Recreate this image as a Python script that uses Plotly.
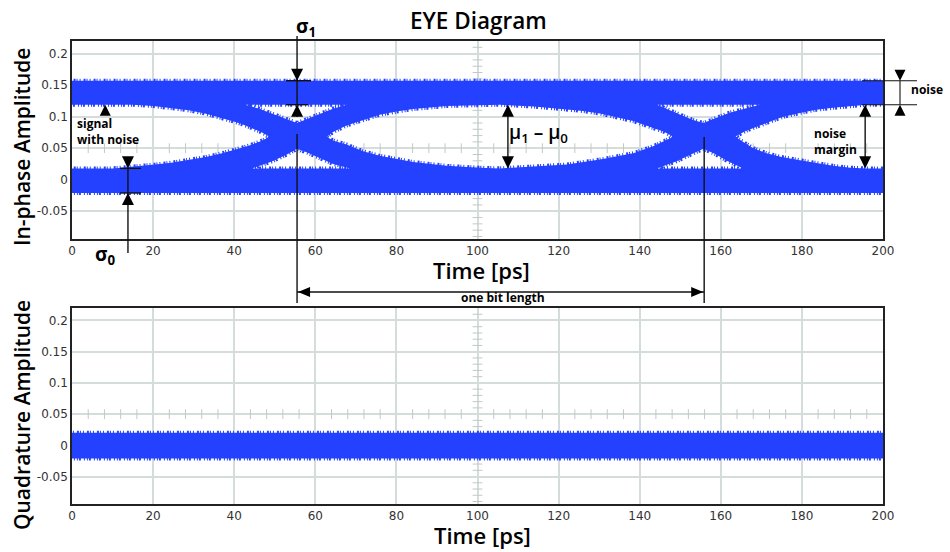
import plotly.graph_objects as go

# ---------------- data ----------------
time_ticks = [0, 20, 40, 60, 80, 100, 120, 140, 160, 180, 200]
amp_ticks = [0.2, 0.15, 0.1, 0.05, 0, -0.05]
amp_tick_text = ["0.2", "0.15", "0.1", "0.05", "0", "-0.05"]
time_range = [0, 200]
amp_range = [-0.094, 0.22]

# in-phase: levels of the noisy "1" and "0" rails (outer / inner edges)
one_outer, one_inner = 0.157, 0.119
zero_inner, zero_outer = 0.018, -0.021
# quadrature: noise band
quad_top, quad_bottom = 0.020, -0.021

# eye openings (upper boundary left->right, then lower boundary right->left)
left_eye_t = [-1, 15, 20, 24.7, 28.8, 32.8, 36, 39.5, 42, 44.4, 46.5, 48.8,
              46.5, 43.6, 40, 37, 33, 28.8, 24.5, 20.5, 15, 10, -1]
left_eye_a = [0.119, 0.119, 0.117, 0.114, 0.110, 0.105, 0.100, 0.093, 0.088, 0.082, 0.076, 0.068,
              0.061, 0.054, 0.047, 0.042, 0.036, 0.031, 0.027, 0.024, 0.021, 0.018, 0.018]

center_eye_t = [62.8, 64.5, 67.7, 71.8, 75.9, 80, 84.1, 92.4, 100.6, 105.5, 114, 122, 126, 130.2,
                134, 138.4, 143.3, 146, 148.3,
                146, 143.3, 138.4, 134, 130.2, 122, 114, 105.5, 100.6, 92.4, 84.1, 80, 75.9,
                71.8, 67.7, 64.5]
center_eye_a = [0.068, 0.076, 0.086, 0.095, 0.103, 0.108, 0.112, 0.117, 0.119, 0.119, 0.116, 0.112,
                0.109, 0.105, 0.100, 0.093, 0.082, 0.076, 0.068,
                0.061, 0.053, 0.042, 0.036, 0.032, 0.024, 0.021, 0.018, 0.019, 0.022, 0.028,
                0.033, 0.038, 0.045, 0.056, 0.062]

right_eye_t = [163.5, 166, 171.3, 175, 179.5, 183.5, 187.7, 192, 196, 201,
               201, 196, 192, 187.7, 183.5, 179.5, 175, 171.3, 168, 166]
right_eye_a = [0.068, 0.077, 0.090, 0.099, 0.106, 0.111, 0.114, 0.117, 0.119, 0.119,
               0.018, 0.018, 0.019, 0.022, 0.026, 0.031, 0.036, 0.042, 0.050, 0.058]

# small openings above / below the two crossing points
upper_gap1_t = [42.7, 67.8, 64.5, 61, 58, 55.5, 53, 50, 46]
upper_gap1_a = [0.119, 0.119, 0.113, 0.104, 0.095, 0.090, 0.096, 0.104, 0.113]
lower_gap1_t = [44.4, 49.3, 53, 55.5, 58, 60.3, 64.4, 68.6]
lower_gap1_a = [0.018, 0.029, 0.040, 0.049, 0.043, 0.036, 0.025, 0.018]
upper_gap2_t = [144.2, 169.7, 166, 162, 158.5, 155.7, 153, 149.5, 146.5]
upper_gap2_a = [0.119, 0.119, 0.113, 0.106, 0.097, 0.090, 0.095, 0.104, 0.112]
lower_gap2_t = [144.2, 149, 153, 155.7, 158.5, 161.5, 165.5]
lower_gap2_a = [0.018, 0.029, 0.041, 0.049, 0.041, 0.030, 0.018]

# annotation anchors (time in ps)
crossing_times = [55.5, 155.9]
sigma0_time = 13.8
signal_arrow_time = 8.2
mu_time = 107.5
margin_time = 195.6

# ---------------- styling / layout ----------------
W, H = 950, 552
L, R, T, B = 72, 883, 41, 504
TOP_PIX = (41, 239)
BOT_PIX = (308, 504)
BLUE = "#2441ff"
GRID = "#d4dddb"
FONT = "Open Sans"


def P(x, y):
    return (x - L) / (R - L), (B - y) / (B - T)


def tx(t):
    return L + (t - time_range[0]) / (time_range[1] - time_range[0]) * (R - L)


def ty(v, pix=TOP_PIX):
    return pix[1] - (v - amp_range[0]) / (amp_range[1] - amp_range[0]) * (pix[1] - pix[0])


fig = go.Figure()

# crosshair minor ticks (drawn below the signal)
minor_t = [t for t in range(4, 200, 4) if t % 20]
minor_a = [round(-0.09 + 0.01 * i, 2) for i in range(31)]
minor_a = [a for a in minor_a if round(a * 100) % 5]
for xa, ya in (("x", "y"), ("x2", "y2")):
    fig.add_trace(go.Scatter(x=minor_t, y=[0.05] * len(minor_t), mode="markers",
                             marker=dict(symbol="line-ns", size=7, line=dict(width=1, color="#bfcac7")),
                             xaxis=xa, yaxis=ya, hoverinfo="skip", showlegend=False))
    fig.add_trace(go.Scatter(x=[100] * len(minor_a), y=minor_a, mode="markers",
                             marker=dict(symbol="line-ew", size=7, line=dict(width=1, color="#bfcac7")),
                             xaxis=xa, yaxis=ya, hoverinfo="skip", showlegend=False))


def ring(ts, amps):
    return list(ts) + [ts[0], None], list(amps) + [amps[0], None]


# fuzzy (noisy) edge look: dashed outline around the filled regions
EDGE = dict(color=BLUE, width=4, dash="1px,2px,1px,1px,2px,3px")

# in-phase eye: outer band region with holes (opposite winding)
ex, ey = ring([-2, 202, 202, -2], [zero_outer, zero_outer, one_outer, one_outer])
for ts, amps in ((left_eye_t, left_eye_a), (center_eye_t, center_eye_a), (right_eye_t, right_eye_a),
                 (upper_gap1_t, upper_gap1_a), (lower_gap1_t, lower_gap1_a),
                 (upper_gap2_t, upper_gap2_a), (lower_gap2_t, lower_gap2_a)):
    a, b = ring(ts, amps)
    ex += a
    ey += b
fig.add_trace(go.Scatter(x=ex, y=ey, mode="lines", fill="toself", fillcolor=BLUE,
                         line=EDGE, xaxis="x", yaxis="y",
                         hoverinfo="skip", showlegend=False))

qx, qy = ring([-2, 202, 202, -2], [quad_bottom, quad_bottom, quad_top, quad_top])
fig.add_trace(go.Scatter(x=qx, y=qy, mode="lines", fill="toself", fillcolor=BLUE,
                         line=EDGE, xaxis="x2", yaxis="y2",
                         hoverinfo="skip", showlegend=False))

# ---------------- annotation drawing ----------------
shapes = []
annots = []


def seg(x0, y0, x1, y1, w=1.4, c="#111"):
    a, b = P(x0, y0), P(x1, y1)
    shapes.append(dict(type="line", xref="paper", yref="paper", x0=a[0], y0=a[1], x1=b[0], y1=b[1],
                       line=dict(color=c, width=w), layer="above"))


def head(x, y, d, w=12, h=12):
    if d == "down":
        pts = [(x - w / 2, y - h), (x + w / 2, y - h), (x, y)]
    elif d == "up":
        pts = [(x - w / 2, y + h), (x + w / 2, y + h), (x, y)]
    elif d == "left":
        pts = [(x + h, y - w / 2), (x + h, y + w / 2), (x, y)]
    else:
        pts = [(x - h, y - w / 2), (x - h, y + w / 2), (x, y)]
    path = "M " + " L ".join("%.5f,%.5f" % P(*p) for p in pts) + " Z"
    shapes.append(dict(type="path", xref="paper", yref="paper", path=path,
                       fillcolor="black", line=dict(width=0), layer="above"))


def text(x, y, s, size=12, xanchor="center", align="center", angle=0, weight="bold"):
    px, py = P(x, y)
    annots.append(dict(x=px, y=py, xref="paper", yref="paper", text=s, showarrow=False,
                       xanchor=xanchor, yanchor="middle", align=align, textangle=angle,
                       font=dict(family=FONT, size=size, color="black", weight=weight)))


y1o, y1i = ty(one_outer), ty(one_inner)
y0i, y0o = ty(zero_inner), ty(zero_outer)

# sigma_1
xs1 = tx(crossing_times[0])
seg(xs1, 36, xs1, y1i + 12)
seg(xs1 - 11, y1o, xs1 + 14, y1o)
seg(xs1 - 11, y1i, xs1 + 11, y1i)
head(xs1, y1o, "down")
head(xs1, y1i, "up")
text(xs1 + 9, 27, "σ<sub>1</sub>", size=19)

# crossing markers + one bit length
xs2 = tx(crossing_times[1])
seg(xs1, 134, xs1, 303)
seg(xs2, 137, xs2, 303)
seg(xs1, 292, xs2, 292)
head(xs1 + 1, 292, "left", w=10, h=12)
head(xs2 - 1, 292, "right", w=10, h=12)
text((xs1 + xs2) / 2 + 2, 297, "one bit length", size=12)

# sigma_0
xs0 = tx(sigma0_time)
seg(xs0, y0i, xs0, 253)
seg(xs0 - 8, y0i, xs0 + 13, y0i)
seg(xs0 - 8, y0o, xs0 + 13, y0o)
head(xs0, y0i, "down")
head(xs0, y0o, "up")
text(105, 255, "σ<sub>0</sub>", size=19)

# signal with noise
head(tx(signal_arrow_time), y1i, "up", w=11, h=11)
text(75, 131, "signal<br>with noise", size=12, xanchor="left", align="left")

# mu1 - mu0
xm = tx(mu_time)
seg(xm, y1i + 6, xm, y0i - 6)
head(xm, y1i, "up")
head(xm, y0i, "down")
text(xm - 1, 133, "μ<sub>1</sub> – μ<sub>0</sub>", size=19, xanchor="left", align="left", weight=600)

# noise (right, outside the plot)
seg(862, y1o, 917, y1o, w=1.1)
seg(862, y1i, 917, y1i, w=1.1)
seg(900, y1o, 900, y1i, w=1.1)
head(900, y1o, "down", w=11, h=11)
head(900, y1i, "up", w=11, h=11)
text(909, 89, "noise", size=12, xanchor="left", align="left")

# noise margin
xn = tx(margin_time)
seg(xn, y1i + 6, xn, y0i - 6)
head(xn, y1i, "up")
head(xn, y0i, "down")
text(812, 141, "noise<br>margin", size=12, xanchor="left", align="left")

# titles
text(478, 20, "EYE Diagram", size=22.5, weight=600)
text(481, 270, "Time [ps]", size=22, weight=600)
text(482, 535, "Time [ps]", size=22, weight=600)
text(22, 147, "In-phase Amplitude", size=21, angle=-90, weight=600)
text(22, 415, "Quadrature Amplitude", size=21, angle=-90, weight=600)

axis_common = dict(showgrid=True, gridcolor=GRID, gridwidth=1.5, zeroline=False,
                   showline=True, mirror=True, linecolor="#222", linewidth=1.5, ticks="",
                   tickfont=dict(family="DejaVu Sans", size=12, color="#333"))

top_dom = [(B - TOP_PIX[1]) / (B - T), (B - TOP_PIX[0]) / (B - T)]
bot_dom = [(B - BOT_PIX[1]) / (B - T), (B - BOT_PIX[0]) / (B - T)]

fig.update_layout(
    width=W, height=H, autosize=False,
    margin=dict(l=L, r=W - R, t=T, b=H - B),
    paper_bgcolor="white", plot_bgcolor="white", showlegend=False,
    xaxis=dict(range=time_range, tickvals=time_ticks, domain=[0, 1], anchor="y", **axis_common),
    yaxis=dict(range=amp_range, tickvals=amp_ticks, ticktext=amp_tick_text, domain=top_dom,
               anchor="x", **axis_common),
    xaxis2=dict(range=time_range, tickvals=time_ticks, domain=[0, 1], anchor="y2", **axis_common),
    yaxis2=dict(range=amp_range, tickvals=amp_ticks, ticktext=amp_tick_text, domain=bot_dom,
                anchor="x2", **axis_common),
    shapes=shapes, annotations=annots,
)

fig.write_html("out.html", config={"displayModeBar": False},
               post_script="document.body.style.margin='0';document.body.style.overflow='hidden';")
